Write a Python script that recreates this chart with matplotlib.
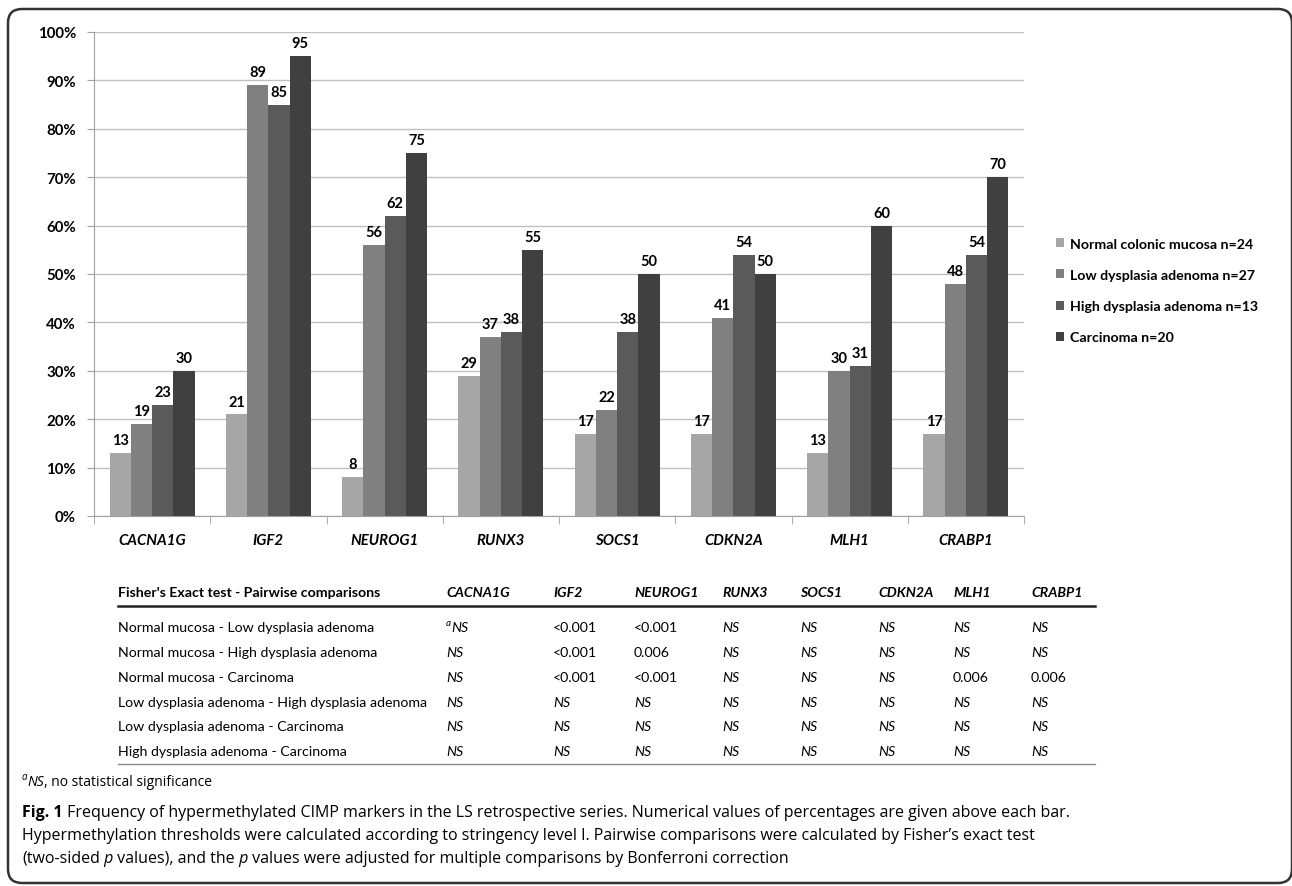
import matplotlib.pyplot as plt
from matplotlib.patches import FancyBboxPatch, Patch
from matplotlib.transforms import IdentityTransform
import numpy as np

# Canvas size in pixels
W, H = 1292, 887

# Chart data (percent hypermethylated)
genes = ['CACNA1G', 'IGF2', 'NEUROG1', 'RUNX3', 'SOCS1', 'CDKN2A', 'MLH1', 'CRABP1']
group_labels = ['Normal colonic mucosa n=24', 'Low dysplasia adenoma n=27',
                'High dysplasia adenoma n=13', 'Carcinoma n=20']
normal = [13, 21, 8, 29, 17, 17, 13, 17]
low_dysplasia = [19, 89, 56, 37, 22, 41, 30, 48]
high_dysplasia = [23, 85, 62, 38, 38, 54, 31, 54]
carcinoma = [30, 95, 75, 55, 50, 50, 60, 70]
group_colors = ['#a6a6a6', '#808080', '#5a5a5a', '#404040']

# Table data
table_title = "Fisher's Exact test - Pairwise comparisons"
comparisons = ['Normal mucosa - Low dysplasia adenoma',
               'Normal mucosa - High dysplasia adenoma',
               'Normal mucosa - Carcinoma',
               'Low dysplasia adenoma - High dysplasia adenoma',
               'Low dysplasia adenoma - Carcinoma',
               'High dysplasia adenoma - Carcinoma']
p_values = [['aNS', '<0.001', '<0.001', 'NS', 'NS', 'NS', 'NS', 'NS'],
            ['NS', '<0.001', '0.006', 'NS', 'NS', 'NS', 'NS', 'NS'],
            ['NS', '<0.001', '<0.001', 'NS', 'NS', 'NS', '0.006', '0.006'],
            ['NS', 'NS', 'NS', 'NS', 'NS', 'NS', 'NS', 'NS'],
            ['NS', 'NS', 'NS', 'NS', 'NS', 'NS', 'NS', 'NS'],
            ['NS', 'NS', 'NS', 'NS', 'NS', 'NS', 'NS', 'NS']]

CHART_FONT = 'Lato'
CAPTION_FONT = 'Open Sans'


def fx(px):
    return px / W


def fy(py):
    return 1 - py / H


fig = plt.figure(figsize=(W / 100, H / 100), dpi=100)
renderer = fig.canvas.get_renderer()

# Rounded frame around everything
frame = FancyBboxPatch((8, 3), W - 8, H - 13, boxstyle='round,pad=0,rounding_size=14',
                       transform=IdentityTransform(), fill=False, edgecolor='#333333', lw=1.8)
fig.add_artist(frame)

# Bar chart
ax = fig.add_axes([fx(94), fy(517), fx(1024) - fx(94), fy(33) - fy(517)])
x = np.arange(len(genes))
bw = 0.183
series = [normal, low_dysplasia, high_dysplasia, carcinoma]
for i, (vals, col) in enumerate(zip(series, group_colors)):
    pos = x + (i - 1.5) * bw
    ax.bar(pos, vals, bw, color=col, zorder=3)
    for p, v in zip(pos, vals):
        ax.text(p, v + 1.2, str(v), ha='center', va='bottom', fontsize=10.5,
                fontweight='bold', family=CHART_FONT)

ax.set_xlim(-0.5, len(genes) - 0.5)
ax.set_ylim(0, 100)
ax.set_yticks(range(0, 101, 10))
ax.set_yticklabels([f'{t}%' for t in range(0, 101, 10)], fontsize=10.8,
                   fontweight='bold', family=CHART_FONT)
ax.set_xticks(x)
ax.set_xticklabels(genes, fontsize=10.8, fontweight='bold', style='italic', family=CHART_FONT)
ax.set_xticks(np.arange(-0.5, len(genes), 1), minor=True)
ax.tick_params(axis='x', which='major', length=0, pad=12)
ax.tick_params(axis='x', which='minor', length=6, color='#a0a0a0', direction='out')
ax.tick_params(axis='y', length=5, color='#a0a0a0', pad=8)
ax.yaxis.grid(True, color='#c0c0c0', lw=1)
ax.set_axisbelow(True)
for s in ['top', 'right']:
    ax.spines[s].set_visible(False)
for s in ['left', 'bottom']:
    ax.spines[s].set_color('#a0a0a0')

# Legend
handles = [Patch(facecolor=c, edgecolor='none') for c in group_colors]
fig.legend(handles, group_labels, loc='upper left', bbox_to_anchor=(fx(1043), fy(226)),
           frameon=False, handlelength=0.6, handleheight=0.6, handletextpad=0.4,
           labelspacing=1.35, prop={'family': CHART_FONT, 'weight': 'bold', 'size': 10.2})


def draw_runs(x0, y0, runs, size, family):
    # runs: list of (text, style, weight, dy, scale)
    xp = x0
    for txt, style, weight, dy, scale in runs:
        t = fig.text(fx(xp), fy(y0 + dy), txt, fontsize=size * scale, family=family,
                     style=style, weight=weight, va='center', ha='left')
        xp += t.get_window_extent(renderer).width
    return xp


def cell_runs(val):
    if val.startswith('a'):
        return [('a', 'italic', 'normal', -5, 0.7), (val[1:], 'italic', 'normal', 0, 1)]
    if val == 'NS':
        return [(val, 'italic', 'normal', 0, 1)]
    return [(val, 'normal', 'normal', 0, 1)]


# Table
col_x = [446, 553, 634, 722, 800, 878, 953, 1031]
tab_left, tab_right = 118, 1095
header_y = 593
row_y = [628, 653, 678, 703, 727, 752]
tsize = 10.2

fig.text(fx(tab_left), fy(header_y), table_title, fontsize=tsize, weight='bold',
         family=CHART_FONT, va='center')
for g, cx in zip(genes, col_x):
    fig.text(fx(cx), fy(header_y), g, fontsize=tsize, weight='bold', style='italic',
             family=CHART_FONT, va='center')
fig.add_artist(plt.Line2D([fx(tab_left), fx(tab_right)], [fy(607), fy(607)],
                          color='#222222', lw=1.8))
for comp, vals, ry in zip(comparisons, p_values, row_y):
    fig.text(fx(tab_left), fy(ry), comp, fontsize=tsize, family=CHART_FONT, va='center')
    for v, cx in zip(vals, col_x):
        draw_runs(cx, ry, cell_runs(v), tsize, CHART_FONT)
fig.add_artist(plt.Line2D([fx(tab_left), fx(tab_right)], [fy(765), fy(765)],
                          color='#888888', lw=1.0))

# Footnote and caption
draw_runs(22, 783, [('a', 'italic', 'normal', -5, 0.7), ('NS', 'italic', 'normal', 0, 1),
                    (', no statistical significance', 'normal', 'normal', 0, 1)],
          10, CAPTION_FONT)

csize = 11.5
draw_runs(22, 813, [('Fig. 1', 'normal', 'bold', 0, 1),
                    (' Frequency of hypermethylated CIMP markers in the LS retrospective series. '
                     'Numerical values of percentages are given above each bar.',
                     'normal', 'normal', 0, 1)], csize, CAPTION_FONT)
draw_runs(22, 836, [('Hypermethylation thresholds were calculated according to stringency level I. '
                     'Pairwise comparisons were calculated by Fisher\u2019s exact test',
                     'normal', 'normal', 0, 1)], csize, CAPTION_FONT)
draw_runs(22, 859, [('(two-sided', 'normal', 'normal', 0, 1), (' p', 'italic', 'normal', 0, 1),
                    (' values), and the', 'normal', 'normal', 0, 1), (' p', 'italic', 'normal', 0, 1),
                    (' values were adjusted for multiple comparisons by Bonferroni correction',
                     'normal', 'normal', 0, 1)], csize, CAPTION_FONT)

fig.savefig('out.png', dpi=100)
